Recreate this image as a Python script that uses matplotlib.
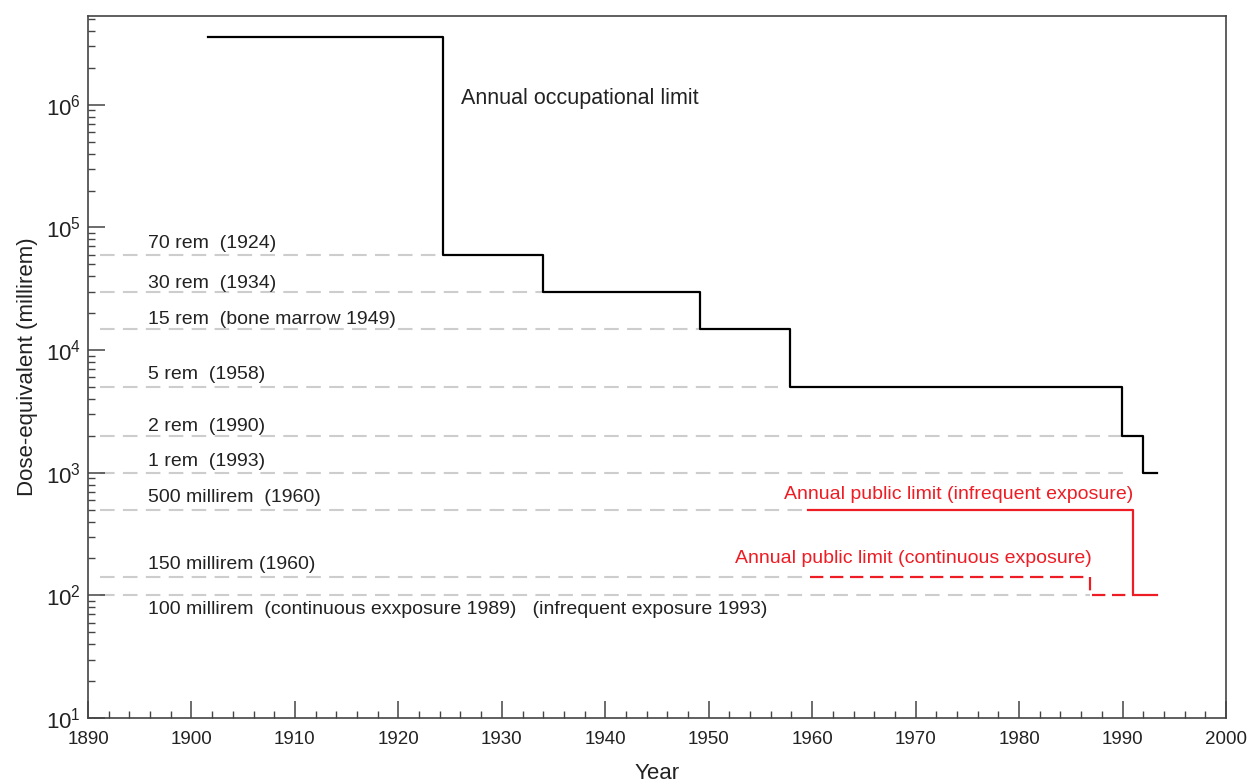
import matplotlib
matplotlib.use("Agg")
import matplotlib.pyplot as plt
from matplotlib.ticker import LogLocator, MultipleLocator, NullFormatter

plt.rcParams['font.family'] = ['Liberation Sans', 'DejaVu Sans']
plt.rcParams['mathtext.fontset'] = 'custom'
plt.rcParams['mathtext.rm'] = 'Liberation Sans'
plt.rcParams['mathtext.it'] = 'Liberation Sans:italic'
plt.rcParams['mathtext.bf'] = 'Liberation Sans:bold'

# ---- data ----
occ_years = [1901.6, 1924.3, 1934.0, 1949.2, 1957.9, 1989.9, 1992.0, 1993.3]
occ_values = [3.6e6, 6e4, 3e4, 1.5e4, 5e3, 2e3, 1e3, 1e3]

pub_inf_years = [1959.6, 1991.0, 1993.3]
pub_inf_values = [500, 100, 100]

pub_cont_years = [1959.8, 1986.9, 1991.0]
pub_cont_values = [140, 100, 100]

ref_values = [6e4, 3e4, 1.5e4, 5e3, 2e3, 1e3, 500, 140, 100]
ref_start = 1891.2
ref_ends = [1924.3, 1934.0, 1949.2, 1956.7, 1989.9, 1990.4, 1959.6, 1959.8, 1986.9]
ref_labels = ["70 rem  (1924)", "30 rem  (1934)", "15 rem  (bone marrow 1949)",
              "5 rem  (1958)", "2 rem  (1990)", "1 rem  (1993)",
              "500 millirem  (1960)", "150 millirem (1960)",
              "100 millirem  (continuous exxposure 1989)   (infrequent exposure 1993)"]
ref_label_offsets = [8, 6, 6.5, 9, 7, 8, 8.5, 9.4, -10]  # points

fig = plt.figure(figsize=(12.5, 7.82), dpi=100)
ax = fig.add_axes([0.0704, 0.0818, 0.9104, 0.8977])

ax.set_yscale('log')
ax.set_xlim(1890, 2000)
ax.set_ylim(10, 5.3e6)

gray = '#cdcdcd'
red = '#ee1c24'

ax.hlines(ref_values, ref_start, ref_ends, colors=gray, linewidth=1.5,
          linestyles=[(0, (7, 4))], zorder=1)

ax.plot(occ_years, occ_values, drawstyle='steps-post', color='black', lw=1.6, zorder=3)
ax.plot(pub_inf_years, pub_inf_values, drawstyle='steps-post', color=red, lw=1.6, zorder=3)
ax.plot(pub_cont_years, pub_cont_values, drawstyle='steps-post', color=red, lw=1.6,
        linestyle=(0, (6, 3)), zorder=3)

for v, lab, off in zip(ref_values, ref_labels, ref_label_offsets):
    ax.annotate(lab, xy=(1895.8, v), xytext=(0, off), textcoords='offset points',
                ha='left', va='center', fontsize=14, color='#222222')

ax.annotate("Annual occupational limit", xy=(1926.05, 1.13e6), ha='left', va='center',
            fontsize=15.5, color='#222222')
ax.annotate("Annual public limit (infrequent exposure)", xy=(1991.0, 500),
            xytext=(0, 11), textcoords='offset points',
            ha='right', va='center', fontsize=14, color=red)
ax.annotate("Annual public limit (continuous exposure)", xy=(1987.0, 140),
            xytext=(0, 13.5), textcoords='offset points',
            ha='right', va='center', fontsize=14, color=red)

# axes styling
for side in ['left', 'bottom', 'top', 'right']:
    ax.spines[side].set_color('#444444')
    ax.spines[side].set_linewidth(1.2)

ax.xaxis.set_major_locator(MultipleLocator(10))
ax.xaxis.set_minor_locator(MultipleLocator(2))
ax.yaxis.set_major_locator(LogLocator(base=10, numticks=10))
ax.yaxis.set_minor_locator(LogLocator(base=10, subs=range(2, 10), numticks=20))
ax.yaxis.set_minor_formatter(NullFormatter())

ax.tick_params(which='major', direction='in', length=12, width=1.1, color='#444444',
               labelcolor='#222222', top=False, right=False)
ax.tick_params(which='minor', direction='in', length=5, width=1.0, color='#444444',
               top=False, right=False)
ax.tick_params(axis='x', which='major', labelsize=13.5, pad=9)
ax.tick_params(axis='y', which='major', labelsize=16, pad=5)

ax.set_xlabel("Year", fontsize=16, color='#222222', labelpad=11)
ax.set_ylabel("Dose-equivalent (millirem)", fontsize=16, color='#222222', labelpad=6)

fig.savefig("out.png", dpi=100)
